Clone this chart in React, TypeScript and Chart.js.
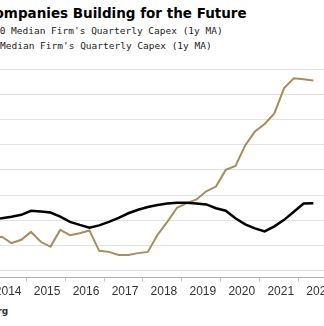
import React, { useEffect, useRef } from "react";
import { Chart, registerables } from "chart.js";

Chart.register(...registerables);

const TITLE = "Tech Companies Building for the Future";
const SERIES_NAMES = [
  "S&P 500 Median Firm's Quarterly Capex (1y MA)",
  "STOXX Median Firm's Quarterly Capex (1y MA)",
];
const SOURCE = "Source: Bloomberg";

const YEAR_TICKS = [2012, 2013, 2014, 2015, 2016, 2017, 2018, 2019, 2020, 2021, 2022, 2023];

// quarter midpoints (decimal years)
const QUARTERS = [
  2014.125, 2014.375, 2014.625, 2014.875,
  2015.125, 2015.375, 2015.625, 2015.875,
  2016.125, 2016.375, 2016.625, 2016.875,
  2017.125, 2017.375, 2017.625, 2017.875,
  2018.125, 2018.375, 2018.625, 2018.875,
  2019.125, 2019.375, 2019.625, 2019.875,
  2020.125, 2020.375, 2020.625, 2020.875,
  2021.125, 2021.375, 2021.625, 2021.875,
  2022.125, 2022.375,
];

const GOLD_VALUES = [
  1.3, 1.35, 1.1, 1.23,
  1.54, 1.15, 0.96, 1.62,
  1.41, 1.49, 1.6, 0.79,
  0.75, 0.63, 0.63, 0.7,
  0.75, 1.43, 1.94, 2.5,
  2.68, 2.83, 3.15, 3.34,
  4.0, 4.16, 4.97, 5.52,
  5.82, 6.24, 7.24, 7.63,
  7.59, 7.54,
];

const BLACK_VALUES = [
  2.06, 2.08, 2.14, 2.22,
  2.38, 2.35, 2.31, 2.15,
  1.94, 1.82, 1.71, 1.8,
  1.94, 2.1, 2.28, 2.42,
  2.53, 2.61, 2.67, 2.7,
  2.7, 2.67, 2.63, 2.48,
  2.38, 2.08, 1.84, 1.68,
  1.56, 1.76, 2.02, 2.34,
  2.67, 2.68,
];

const Y_GRID = [0, 1, 2, 3, 4, 5, 6, 7, 8];

const GOLD = "#a88c5c";
const BLACK = "#000000";

export default function App() {
  const ref = useRef<HTMLCanvasElement | null>(null);

  useEffect(() => {
    if (!ref.current) return;
    const chart = new Chart(ref.current, {
      type: "line",
      data: {
        datasets: [
          {
            label: SERIES_NAMES[1],
            data: QUARTERS.map((q, i) => ({ x: q, y: BLACK_VALUES[i] })),
            borderColor: BLACK,
            borderWidth: 2.5,
            pointRadius: 0,
            tension: 0,
            order: 0,
          },
          {
            label: SERIES_NAMES[0],
            data: QUARTERS.map((q, i) => ({ x: q, y: GOLD_VALUES[i] })),
            borderColor: GOLD,
            borderWidth: 2,
            pointRadius: 0,
            tension: 0,
            order: 1,
          },
        ],
      },
      options: {
        animation: false,
        responsive: false,
        devicePixelRatio: 1,
        layout: { padding: { top: 9, left: 0, right: 0, bottom: 0 }, autoPadding: false },
        plugins: {
          legend: { display: false },
          title: { display: false },
          tooltip: { enabled: false },
        },
        scales: {
          x: {
            type: "linear",
            position: "bottom",
            min: YEAR_TICKS[0],
            max: YEAR_TICKS[YEAR_TICKS.length - 1],
            afterBuildTicks: (scale: any) => {
              scale.ticks = YEAR_TICKS.map((v) => ({ value: v }));
            },
            grid: {
              drawOnChartArea: false,
              drawTicks: true,
              tickLength: 4,
              color: "#c8c8c8",
            },
            border: { display: true, color: "#b0b0b0", width: 1 },
            ticks: {
              autoSkip: false,
              maxRotation: 0,
              padding: 3,
              labelOffset: 20.95,
              color: "#333333",
              font: { family: "'Liberation Sans', Arial, sans-serif", size: 12 },
              callback: (v: any) => String(v),
            },
          },
          y: {
            type: "linear",
            position: "right",
            min: -0.27,
            max: 8,
            afterBuildTicks: (scale: any) => {
              scale.ticks = Y_GRID.map((v) => ({ value: v }));
            },
            grid: { color: "#e2e2e2", drawTicks: false, lineWidth: 1 },
            border: { display: false },
            ticks: { display: false },
          },
        },
      },
    });
    return () => chart.destroy();
  }, []);

  return (
    <div
      style={{
        position: "absolute",
        left: 0,
        top: 0,
        width: 324,
        height: 326,
        overflow: "hidden",
        background: "#ffffff",
      }}
    >
      <div
        style={{
          position: "absolute",
          right: 77.3,
          top: 5.8,
          whiteSpace: "nowrap",
          fontFamily: "'DejaVu Sans', sans-serif",
          fontWeight: "bold",
          fontSize: 13.5,
          lineHeight: "15.7px",
          color: "#000",
        }}
      >
        {TITLE}
      </div>
      <div
        style={{
          position: "absolute",
          right: 101.3,
          top: 23.4,
          whiteSpace: "nowrap",
          fontFamily: "'DejaVu Sans Mono', monospace",
          fontSize: 9.5,
          lineHeight: "15px",
          color: "#222",
        }}
      >
        <span style={{ display: "inline-block", width: 14, height: 2, background: GOLD, verticalAlign: "middle", marginRight: 4 }} />
        {SERIES_NAMES[0]}
      </div>
      <div
        style={{
          position: "absolute",
          right: 112.3,
          top: 38.4,
          whiteSpace: "nowrap",
          fontFamily: "'DejaVu Sans Mono', monospace",
          fontSize: 9.5,
          lineHeight: "15px",
          color: "#222",
        }}
      >
        <span style={{ display: "inline-block", width: 14, height: 2, background: BLACK, verticalAlign: "middle", marginRight: 4 }} />
        {SERIES_NAMES[1]}
      </div>
      <canvas
        ref={ref}
        width={461}
        height={242}
        style={{ position: "absolute", left: -107, top: 60, width: 461, height: 242 }}
      />
      <div
        style={{
          position: "absolute",
          right: 315.7,
          top: 305,
          whiteSpace: "nowrap",
          fontFamily: "'DejaVu Sans', sans-serif",
          fontWeight: "bold",
          fontSize: 9,
          lineHeight: "12px",
          color: "#333",
        }}
      >
        {SOURCE}
      </div>
    </div>
  );
}
